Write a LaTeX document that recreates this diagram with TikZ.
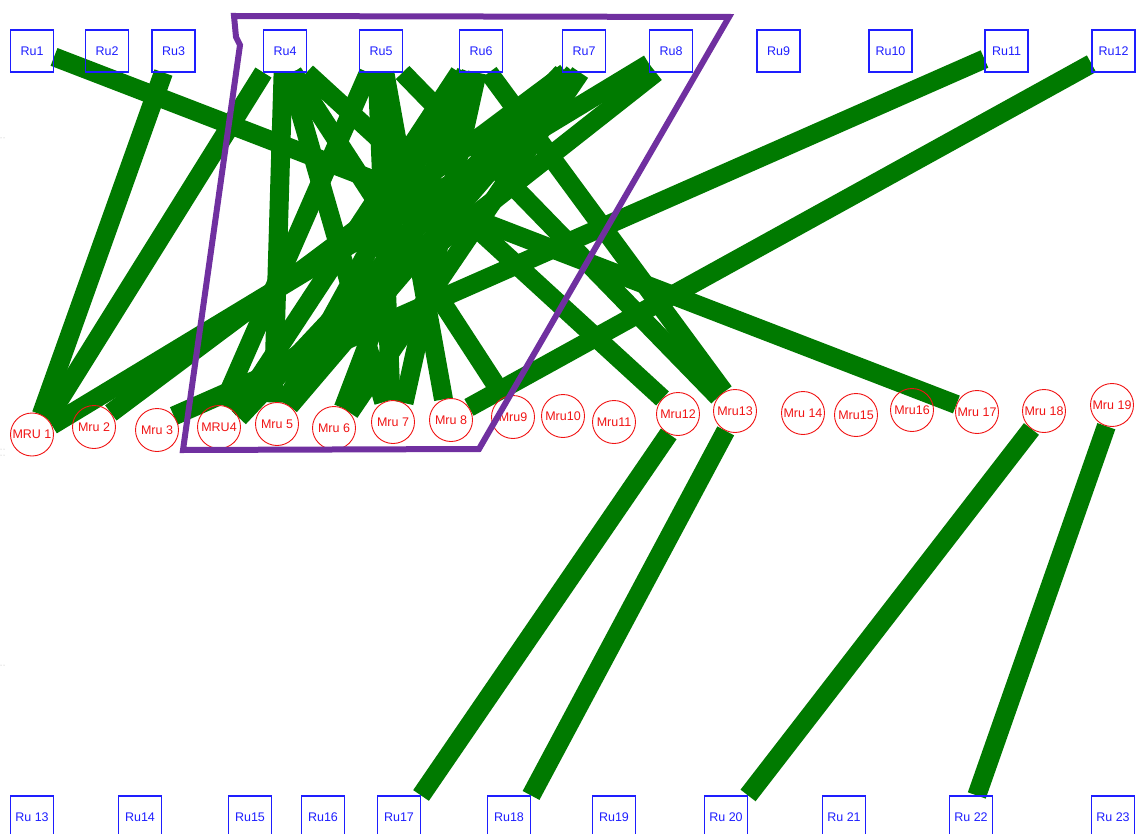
\documentclass[tikz,border=0pt]{standalone}
\usepackage{fontspec}
\setmainfont{Liberation Sans}
\pgfdeclarelayer{bg}
\pgfsetlayers{bg,main}
\definecolor{lgreen}{RGB}{0,122,0}
\definecolor{frame}{RGB}{112,48,160}
\definecolor{boxblue}{RGB}{30,30,255}
\definecolor{cred}{RGB}{240,20,20}
\tikzset{
  rubox/.style={draw=boxblue, line width=1.1pt, minimum width=43pt, minimum height=42pt, inner sep=0pt, text=boxblue, font=\fontsize{12.5}{14}\selectfont},
  mrucirc/.style={draw=cred, circle, line width=0.9pt, minimum size=43pt, inner sep=0pt, text=cred, font=\fontsize{12.5}{14}\selectfont},
  link/.style={draw=lgreen, line width=19pt, line cap=butt},
  zone/.style={draw=frame, line width=6pt, line join=miter}
}
\begin{document}
\begin{tikzpicture}[x=1pt,y=-1pt]
\useasboundingbox (0,0) rectangle (1139,834);
% top row
\node[rubox] (ru1) at (32,51) {Ru1};
\node[rubox] (ru2) at (107,51) {Ru2};
\node[rubox] (ru3) at (173.5,51) {Ru3};
\node[rubox] (ru4) at (285,51) {Ru4};
\node[rubox] (ru5) at (381,51) {Ru5};
\node[rubox] (ru6) at (481,51) {Ru6};
\node[rubox] (ru7) at (584,51) {Ru7};
\node[rubox] (ru8) at (671,51) {Ru8};
\node[rubox] (ru9) at (778.5,51) {Ru9};
\node[rubox] (ru10) at (890.5,51) {Ru10};
\node[rubox] (ru11) at (1006.5,51) {Ru11};
\node[rubox] (ru12) at (1113.5,51) {Ru12};
% middle row
\node[mrucirc] (mru1) at (32,434.5) {MRU 1};
\node[mrucirc] (mru2) at (94,427) {Mru 2};
\node[mrucirc] (mru3) at (157,430) {Mru 3};
\node[mrucirc] (mru4) at (219,427) {MRU4};
\node[mrucirc] (mru5) at (277,424) {Mru 5};
\node[mrucirc] (mru6) at (334,428) {Mru 6};
\node[mrucirc] (mru7) at (393,422) {Mru 7};
\node[mrucirc] (mru8) at (451,420) {Mru 8};
\node[mrucirc] (mru9) at (513,417) {Mru9};
\node[mrucirc] (mru10) at (563,416) {Mru10};
\node[mrucirc] (mru11) at (614,422) {Mru11};
\node[mrucirc] (mru12) at (678,414) {Mru12};
\node[mrucirc] (mru13) at (735,411) {Mru13};
\node[mrucirc] (mru14) at (803,413) {Mru 14};
\node[mrucirc] (mru15) at (856,415) {Mru15};
\node[mrucirc] (mru16) at (912,410) {Mru16};
\node[mrucirc] (mru17) at (977,412) {Mru 17};
\node[mrucirc] (mru18) at (1044,411) {Mru 18};
\node[mrucirc] (mru19) at (1112,405) {Mru 19};
% bottom row
\node[rubox] (ru13) at (32,817) {Ru 13};
\node[rubox] (ru14) at (140,817) {Ru14};
\node[rubox] (ru15) at (250,817) {Ru15};
\node[rubox] (ru16) at (323,817) {Ru16};
\node[rubox] (ru17) at (399,817) {Ru17};
\node[rubox] (ru18) at (509,817) {Ru18};
\node[rubox] (ru19) at (614,817) {Ru19};
\node[rubox] (ru20) at (726,817) {Ru 20};
\node[rubox] (ru21) at (844,817) {Ru 21};
\node[rubox] (ru22) at (971,817) {Ru 22};
\node[rubox] (ru23) at (1113,817) {Ru 23};
% links
\begin{pgfonlayer}{bg}
\path[link] (ru1.-15) -- (mru17.160);
\path[link] (ru3.-115) -- (mru1.65);
\path[link] (ru4.-135) -- (mru1.45);
\path[link] (mru1.25) -- (ru8.-150);
\path[link] (mru2.40) -- (ru7.-130);
\path[link] (mru3.40) -- (ru11.-160);
\path[link] (ru8.-125) -- (mru4.60);
\path[link] (ru12.-150) -- (mru8.35);
\path[link] (ru4.-95) -- (mru5.100);
\path[link] (ru4.-45) -- (mru12.135);
\path[link] (ru4.-70) -- (mru9.115);
\path[link] (ru5.-45) -- (mru13.140);
\path[link] (ru6.-70) -- (mru13.120);
\path[link] (ru5.-100) -- (mru7.95);
\path[link] (ru6.-115) -- (mru6.65);
\path[link] (ru7.-115) -- (mru5.55);
\path[link] (ru6.-135) -- (mru4.40);
\path[link] (ru5.-120) -- (mru4.80);
\path[link] (ru6.-100) -- (mru7.60);
\path[link] (ru7.-100) -- (mru6.45);
\path[link] (ru5.-80) -- (mru8.110);
\path[link] (ru4.-80) -- (mru7.115);
\path[link] (ru6.-125) -- (mru5.70);
\path[link] (ru7.-135) -- (mru4.25);
\path[link] (mru12.-115) -- (ru17.north east);
\path[link] (mru13.-115) -- (ru18.north east);
\path[link] (mru18.-125) -- (ru20.north east);
\path[link] (mru19.-105) -- (ru22.75);
\end{pgfonlayer}
% selection zone
\draw[zone] (234,16) -- (236,37) -- (240,45) -- (183,450) -- (479,449) -- (729,17) -- cycle;
% small edge marks
\fill[gray!60] (1,138) circle (0.5pt) (4,138) circle (0.5pt);
\fill[gray!60] (1,449) circle (0.5pt) (4,449) circle (0.5pt) (1,455) circle (0.5pt) (4,455) circle (0.5pt);
\fill[gray!60] (1,665) circle (0.5pt) (4,665) circle (0.5pt);
\end{tikzpicture}
\end{document}
